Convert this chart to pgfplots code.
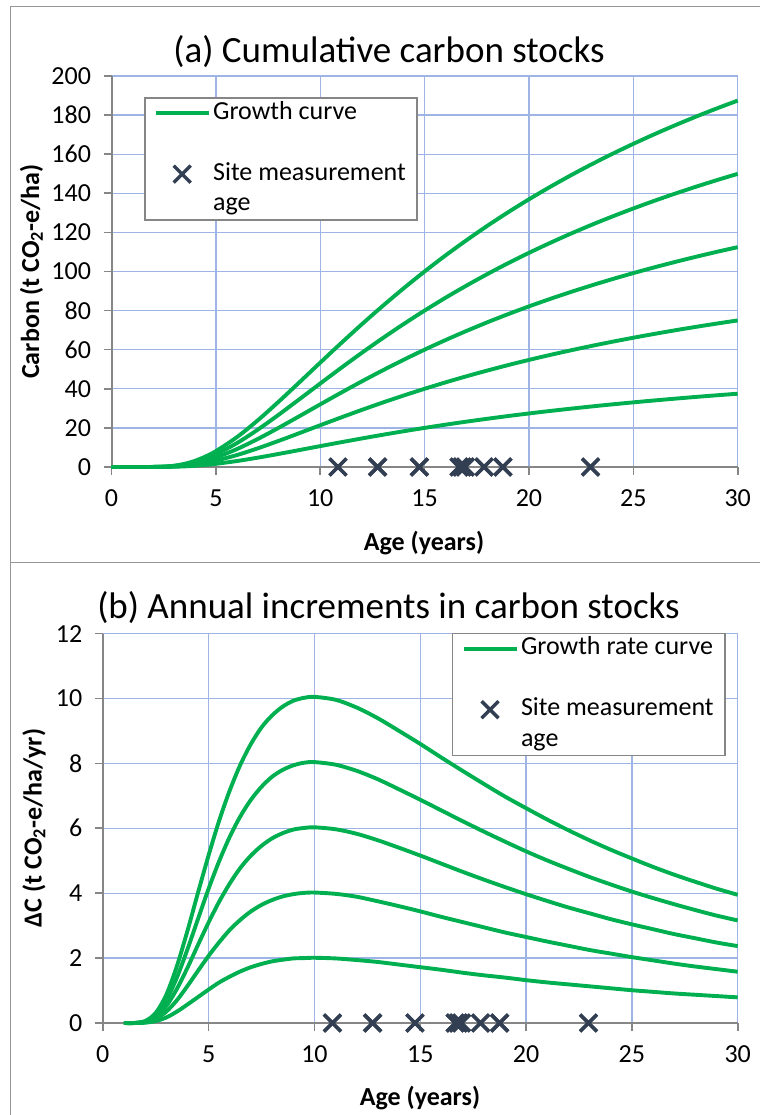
\documentclass[border=0pt]{standalone}
\usepackage{fontspec}
\setmainfont{Carlito}
\usepackage{pgfplots}
\usepackage{pgfplotstable}
\pgfplotsset{compat=1.18}
\definecolor{cgreen}{RGB}{0,176,80}
\definecolor{cmark}{RGB}{50,62,82}
\definecolor{cgrid}{RGB}{158,180,228}
\definecolor{caxis}{RGB}{134,134,134}
\definecolor{cframe}{RGB}{150,150,150}

% cumulative carbon stocks (t CO2-e/ha), five growth curves
\pgfplotstableread{
t    c1     c2     c3     c4    c5
0    0      0      0      0     0
1    0      0      0      0     0
2    0.03   0.02   0.02   0.01  0.01
2.5  0.19   0.15   0.11   0.08  0.04
3    0.66   0.53   0.39   0.26  0.13
3.5  1.61   1.29   0.97   0.65  0.32
4    3.16   2.53   1.90   1.26  0.63
4.5  5.34   4.27   3.20   2.13  1.07
5    8.11   6.49   4.87   3.24  1.62
6    15.20  12.16  9.12   6.08  3.04
7    23.80  19.04  14.28  9.52  4.76
8    33.33  26.66  20.00  13.33 6.67
9    43.30  34.64  25.98  17.32 8.66
10   53.38  42.70  32.03  21.35 10.68
11   63.35  50.68  38.01  25.34 12.67
12   73.07  58.46  43.84  29.23 14.61
13   82.44  65.95  49.46  32.98 16.49
14   91.43  73.14  54.86  36.57 18.29
15   100.01 80.01  60.01  40.00 20.00
16   108.19 86.55  64.91  43.28 21.64
17   115.94 92.75  69.56  46.38 23.19
18   123.31 98.65  73.99  49.32 24.66
19   130.30 104.24 78.18  52.12 26.06
20   136.92 109.54 82.15  54.77 27.38
21   143.20 114.56 85.92  57.28 28.64
22   149.16 119.33 89.50  59.66 29.83
23   154.82 123.86 92.89  61.93 30.96
24   160.19 128.15 96.11  64.08 32.04
25   165.30 132.24 99.18  66.12 33.06
26   170.16 136.13 102.10 68.06 34.03
27   174.79 139.83 104.87 69.92 34.96
28   179.20 143.36 107.52 71.68 35.84
29   183.41 146.73 110.05 73.36 36.68
30   187.42 149.94 112.45 74.97 37.48
}\cumul

% annual increments (t CO2-e/ha/yr)
\pgfplotstableread{
t    r1     r2    r3    r4    r5
1    0      0     0     0     0
1.5  0      0     0     0     0
2    0.06   0.05  0.03  0.02  0.01
2.5  0.31   0.24  0.18  0.12  0.06
3    0.87   0.70  0.52  0.35  0.17
3.5  1.75   1.40  1.05  0.70  0.35
4    2.84   2.27  1.70  1.14  0.57
4.5  4.02   3.21  2.41  1.61  0.80
5    5.17   4.14  3.10  2.07  1.03
5.5  6.24   4.99  3.74  2.49  1.25
6    7.17   5.74  4.30  2.87  1.43
6.5  7.96   6.37  4.78  3.18  1.59
7    8.60   6.88  5.16  3.44  1.72
7.5  9.11   7.28  5.46  3.64  1.82
8    9.48   7.59  5.69  3.79  1.90
8.5  9.75   7.80  5.85  3.90  1.95
9    9.93   7.94  5.96  3.97  1.99
9.5  10.02  8.02  6.01  4.01  2.00
10   10.05  8.04  6.03  4.02  2.01
11   9.96   7.96  5.97  3.98  1.99
12   9.72   7.77  5.83  3.89  1.94
13   9.39   7.51  5.63  3.75  1.88
14   9.00   7.20  5.40  3.60  1.80
15   8.60   6.88  5.16  3.44  1.72
16   8.18   6.55  4.91  3.27  1.64
17   7.77   6.22  4.66  3.11  1.55
18   7.37   5.90  4.42  2.95  1.47
19   6.98   5.59  4.19  2.79  1.40
20   6.62   5.29  3.97  2.65  1.32
21   6.27   5.01  3.76  2.51  1.25
22   5.94   4.75  3.56  2.38  1.19
23   5.63   4.50  3.38  2.25  1.13
24   5.34   4.27  3.20  2.14  1.07
25   5.07   4.05  3.04  2.03  1.01
26   4.81   3.85  2.89  1.93  0.96
27   4.57   3.66  2.74  1.83  0.91
28   4.35   3.48  2.61  1.74  0.87
29   4.14   3.31  2.48  1.66  0.83
30   3.95   3.16  2.37  1.58  0.79
}\rate

% site measurement ages
\pgfplotstableread{
age   y
10.85 0
12.75 0
14.75 0
16.65 0
16.80 0
16.95 0
17.85 0
18.75 0
22.95 0
}\sites

\pgfplotsset{
  panel/.style={
    scale only axis, clip=false,
    axis x line*=bottom, axis y line*=left,
    axis line style={-, caxis, line width=2bp},
    tick align=outside, major tick length=8bp,
    every tick/.style={caxis, line width=1.6bp},
    grid=major, grid style={cgrid, line width=1.3bp},
    tick label style={font=\fontsize{26bp}{31bp}\selectfont,
      /pgf/number format/assume math mode=true},
    yticklabel style={xshift=-9bp},
    xticklabel style={yshift=-11bp},
    xmin=0, xmax=30, xtick={0,5,...,30},
    legend cell align=left,
    legend style={draw=caxis, line width=1.6bp, fill=white,
      font=\fontsize{26bp}{30.5bp}\selectfont, anchor=north west,
      inner xsep=9bp, inner ysep=0bp, row sep=0bp,
      nodes={inner xsep=2.5bp, inner ysep=0bp,
        text height=21.5bp, text depth=9bp}},
  },
  curve/.style={cgreen, line width=3.9bp, smooth, no marks,
    legend image code/.code={\draw[##1] (0bp,0bp) -- (53bp,0bp);}},
  sitemark/.style={only marks, mark=x, mark size=12bp, cmark,
    mark options={line width=3.4bp, cmark},
    legend image code/.code={\draw[mark repeat=2,mark phase=2,##1]
      plot coordinates {(0bp,0bp) (26.5bp,0bp) (53bp,0bp)};}},
}

\begin{document}
\begin{tikzpicture}
\useasboundingbox (0bp,0bp) rectangle (760bp,1115bp);
% chart frames
\draw[cframe, line width=1.2bp] (10.7bp,-5bp) -- (10.7bp,1108.6bp) -- (775bp,1108.6bp);
\draw[cframe, line width=1.2bp] (10.7bp,552.2bp) -- (775bp,552.2bp);

% ---------- (a) ----------
\begin{axis}[panel,
  at={(111.5bp,648bp)}, anchor=south west,
  width=626.2bp, height=391bp,
  ymin=0, ymax=200, ytick={0,20,...,200},
  legend style={at={(0.0518,0.946)}},
]
\addplot[curve] table[x=t,y=c1] {\cumul};
\addlegendentry{Growth curve}
\addlegendimage{empty legend}
\addlegendentry{}
\addplot[sitemark] table[x=age,y=y] {\sites};
\addlegendentry{Site measurement}
\addlegendimage{empty legend}
\addlegendentry{age}
\addplot[curve, forget plot] table[x=t,y=c2] {\cumul};
\addplot[curve, forget plot] table[x=t,y=c3] {\cumul};
\addplot[curve, forget plot] table[x=t,y=c4] {\cumul};
\addplot[curve, forget plot] table[x=t,y=c5] {\cumul};
\addplot[sitemark, forget plot] table[x=age,y=y] {\sites};
\end{axis}
\node[font=\fontsize{37bp}{44bp}\selectfont] at (389bp,1063.2bp) {(a) Cumulative carbon stocks};
\node[font=\fontsize{26bp}{31bp}\selectfont\bfseries] at (424bp,572bp) {Age (years)};
\node[font=\fontsize{26bp}{31bp}\selectfont\bfseries, rotate=90] at (31.5bp,843.5bp) {Carbon (t CO\textsubscript{2}-e/ha)};

% ---------- (b) ----------
\begin{axis}[panel,
  at={(102.8bp,92bp)}, anchor=south west,
  width=634.9bp, height=389.4bp,
  ymin=0, ymax=12, ytick={0,2,...,12},
  legend style={at={(0.5497,1.0025)}},
]
\addplot[curve] table[x=t,y=r1] {\rate};
\addlegendentry{Growth rate curve}
\addlegendimage{empty legend}
\addlegendentry{}
\addplot[sitemark] table[x=age,y=y] {\sites};
\addlegendentry{Site measurement}
\addlegendimage{empty legend}
\addlegendentry{age}
\addplot[curve, forget plot] table[x=t,y=r2] {\rate};
\addplot[curve, forget plot] table[x=t,y=r3] {\rate};
\addplot[curve, forget plot] table[x=t,y=r4] {\rate};
\addplot[curve, forget plot] table[x=t,y=r5] {\rate};
\addplot[sitemark, forget plot] table[x=age,y=y] {\sites};
\end{axis}
\node[font=\fontsize{37bp}{44bp}\selectfont] at (388.5bp,507.2bp) {(b) Annual increments in carbon stocks};
\node[font=\fontsize{26bp}{31bp}\selectfont\bfseries] at (420bp,17bp) {Age (years)};
\node[font=\fontsize{26bp}{31bp}\selectfont\bfseries, rotate=90] at (34bp,287bp) {ΔC (t CO\textsubscript{2}-e/ha/yr)};
\end{tikzpicture}
\end{document}
